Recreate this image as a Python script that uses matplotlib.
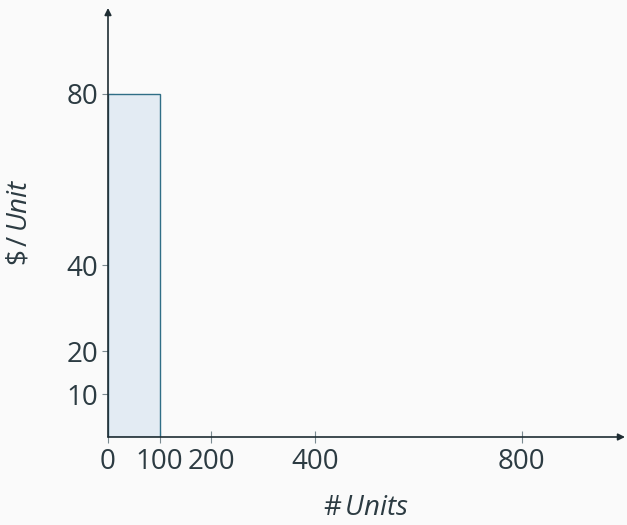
import matplotlib
matplotlib.use("Agg")
import matplotlib.pyplot as plt

# data
bar_left = [0]
bar_width = [100]
bar_height = [80]
xticks = [0, 100, 200, 400, 800]
yticks = [10, 20, 40, 80]
xlabel = r"$\#\,\mathit{Units}$"
ylabel = r"$\$\,/\,\mathit{Unit}$"

plt.rcParams['font.family'] = ['Open Sans', 'DejaVu Sans']
plt.rcParams['mathtext.fontset'] = 'custom'
plt.rcParams['mathtext.it'] = 'Open Sans:italic'
plt.rcParams['mathtext.rm'] = 'Open Sans'

txt = '#2c3b42'
bg = '#fafafa'

fig = plt.figure(figsize=(6.27, 5.25), dpi=100, facecolor=bg)
ax = fig.add_axes([108/627, 88/525, 517/627, 429/525], facecolor=bg)
ax.set_xlim(0, 1000)
ax.set_ylim(0, 100)

ax.bar(bar_left, bar_height, width=bar_width, align='edge',
       facecolor='#e3ebf3', edgecolor='#2f6e86', linewidth=1.0, zorder=2)

for s in ax.spines.values():
    s.set_visible(False)

ax.annotate('', xy=(1.0, 0), xytext=(0, 0), xycoords='axes fraction',
            arrowprops=dict(arrowstyle='-|>', color='#1f2d33', lw=1.2,
                            mutation_scale=10, shrinkA=0, shrinkB=0), zorder=3)
ax.annotate('', xy=(0, 1.0), xytext=(0, 0), xycoords='axes fraction',
            arrowprops=dict(arrowstyle='-|>', color='#1f2d33', lw=1.2,
                            mutation_scale=10, shrinkA=0, shrinkB=0), zorder=3)

ax.set_xticks(xticks)
ax.set_yticks(yticks)
ax.set_xticklabels([str(v) for v in xticks])
ax.set_yticklabels([str(v) for v in yticks])
ax.tick_params(axis='both', direction='inout', length=8, width=0.8,
               color='#7a8a90', labelsize=20, labelcolor=txt, pad=3)
ax.tick_params(axis='x', pad=4)

ax.set_xlabel(xlabel, fontsize=20, color=txt, labelpad=13)
ax.set_ylabel(ylabel, fontsize=20, color=txt, labelpad=24)

fig.savefig('out.png', dpi=100, facecolor=bg)
